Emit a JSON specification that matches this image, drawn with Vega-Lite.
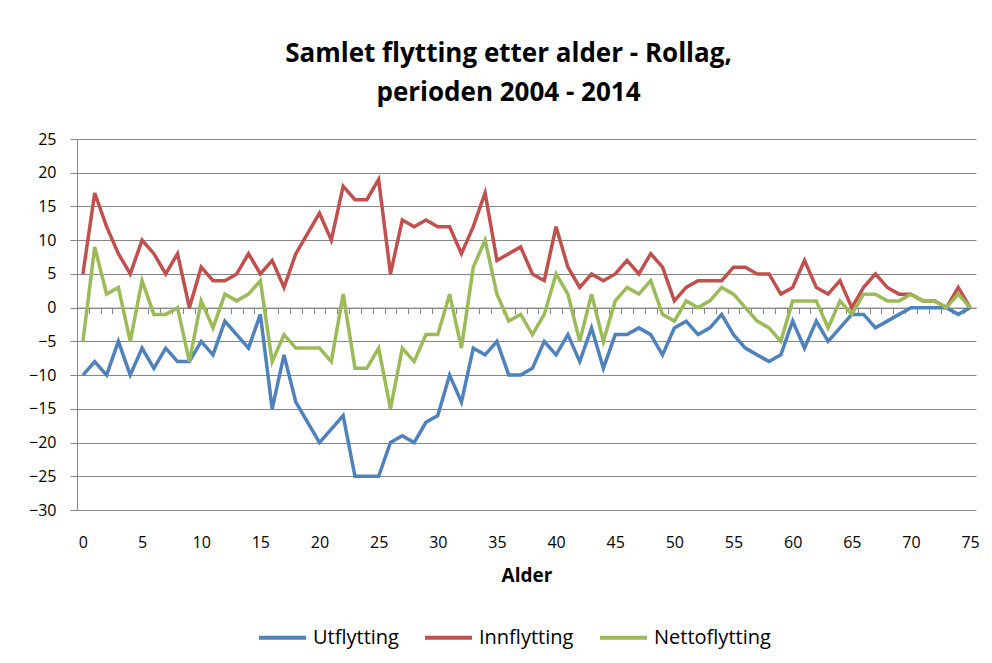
{
  "$schema": "https://vega.github.io/schema/vega-lite/v6.json",
  "autosize": {"type": "none"},
  "padding": {"left": 77, "top": 139, "right": 16, "bottom": 153},
  "width": 899,
  "height": 371,
  "background": "white",
  "title": {
    "text": ["Samlet flytting etter alder - Rollag,", "perioden 2004 - 2014"],
    "font": "Open Sans",
    "fontSize": 26,
    "fontWeight": "bold",
    "color": "#000000",
    "lineHeight": 39,
    "anchor": "middle",
    "dx": -18,
    "offset": 25
  },
  "data": {
    "values": [
      {"alder": 0, "Utflytting": -10, "Innflytting": 5, "Nettoflytting": -5},
      {"alder": 1, "Utflytting": -8, "Innflytting": 17, "Nettoflytting": 9},
      {"alder": 2, "Utflytting": -10, "Innflytting": 12, "Nettoflytting": 2},
      {"alder": 3, "Utflytting": -5, "Innflytting": 8, "Nettoflytting": 3},
      {"alder": 4, "Utflytting": -10, "Innflytting": 5, "Nettoflytting": -5},
      {"alder": 5, "Utflytting": -6, "Innflytting": 10, "Nettoflytting": 4},
      {"alder": 6, "Utflytting": -9, "Innflytting": 8, "Nettoflytting": -1},
      {"alder": 7, "Utflytting": -6, "Innflytting": 5, "Nettoflytting": -1},
      {"alder": 8, "Utflytting": -8, "Innflytting": 8, "Nettoflytting": 0},
      {"alder": 9, "Utflytting": -8, "Innflytting": 0, "Nettoflytting": -8},
      {"alder": 10, "Utflytting": -5, "Innflytting": 6, "Nettoflytting": 1},
      {"alder": 11, "Utflytting": -7, "Innflytting": 4, "Nettoflytting": -3},
      {"alder": 12, "Utflytting": -2, "Innflytting": 4, "Nettoflytting": 2},
      {"alder": 13, "Utflytting": -4, "Innflytting": 5, "Nettoflytting": 1},
      {"alder": 14, "Utflytting": -6, "Innflytting": 8, "Nettoflytting": 2},
      {"alder": 15, "Utflytting": -1, "Innflytting": 5, "Nettoflytting": 4},
      {"alder": 16, "Utflytting": -15, "Innflytting": 7, "Nettoflytting": -8},
      {"alder": 17, "Utflytting": -7, "Innflytting": 3, "Nettoflytting": -4},
      {"alder": 18, "Utflytting": -14, "Innflytting": 8, "Nettoflytting": -6},
      {"alder": 19, "Utflytting": -17, "Innflytting": 11, "Nettoflytting": -6},
      {"alder": 20, "Utflytting": -20, "Innflytting": 14, "Nettoflytting": -6},
      {"alder": 21, "Utflytting": -18, "Innflytting": 10, "Nettoflytting": -8},
      {"alder": 22, "Utflytting": -16, "Innflytting": 18, "Nettoflytting": 2},
      {"alder": 23, "Utflytting": -25, "Innflytting": 16, "Nettoflytting": -9},
      {"alder": 24, "Utflytting": -25, "Innflytting": 16, "Nettoflytting": -9},
      {"alder": 25, "Utflytting": -25, "Innflytting": 19, "Nettoflytting": -6},
      {"alder": 26, "Utflytting": -20, "Innflytting": 5, "Nettoflytting": -15},
      {"alder": 27, "Utflytting": -19, "Innflytting": 13, "Nettoflytting": -6},
      {"alder": 28, "Utflytting": -20, "Innflytting": 12, "Nettoflytting": -8},
      {"alder": 29, "Utflytting": -17, "Innflytting": 13, "Nettoflytting": -4},
      {"alder": 30, "Utflytting": -16, "Innflytting": 12, "Nettoflytting": -4},
      {"alder": 31, "Utflytting": -10, "Innflytting": 12, "Nettoflytting": 2},
      {"alder": 32, "Utflytting": -14, "Innflytting": 8, "Nettoflytting": -6},
      {"alder": 33, "Utflytting": -6, "Innflytting": 12, "Nettoflytting": 6},
      {"alder": 34, "Utflytting": -7, "Innflytting": 17, "Nettoflytting": 10},
      {"alder": 35, "Utflytting": -5, "Innflytting": 7, "Nettoflytting": 2},
      {"alder": 36, "Utflytting": -10, "Innflytting": 8, "Nettoflytting": -2},
      {"alder": 37, "Utflytting": -10, "Innflytting": 9, "Nettoflytting": -1},
      {"alder": 38, "Utflytting": -9, "Innflytting": 5, "Nettoflytting": -4},
      {"alder": 39, "Utflytting": -5, "Innflytting": 4, "Nettoflytting": -1},
      {"alder": 40, "Utflytting": -7, "Innflytting": 12, "Nettoflytting": 5},
      {"alder": 41, "Utflytting": -4, "Innflytting": 6, "Nettoflytting": 2},
      {"alder": 42, "Utflytting": -8, "Innflytting": 3, "Nettoflytting": -5},
      {"alder": 43, "Utflytting": -3, "Innflytting": 5, "Nettoflytting": 2},
      {"alder": 44, "Utflytting": -9, "Innflytting": 4, "Nettoflytting": -5},
      {"alder": 45, "Utflytting": -4, "Innflytting": 5, "Nettoflytting": 1},
      {"alder": 46, "Utflytting": -4, "Innflytting": 7, "Nettoflytting": 3},
      {"alder": 47, "Utflytting": -3, "Innflytting": 5, "Nettoflytting": 2},
      {"alder": 48, "Utflytting": -4, "Innflytting": 8, "Nettoflytting": 4},
      {"alder": 49, "Utflytting": -7, "Innflytting": 6, "Nettoflytting": -1},
      {"alder": 50, "Utflytting": -3, "Innflytting": 1, "Nettoflytting": -2},
      {"alder": 51, "Utflytting": -2, "Innflytting": 3, "Nettoflytting": 1},
      {"alder": 52, "Utflytting": -4, "Innflytting": 4, "Nettoflytting": 0},
      {"alder": 53, "Utflytting": -3, "Innflytting": 4, "Nettoflytting": 1},
      {"alder": 54, "Utflytting": -1, "Innflytting": 4, "Nettoflytting": 3},
      {"alder": 55, "Utflytting": -4, "Innflytting": 6, "Nettoflytting": 2},
      {"alder": 56, "Utflytting": -6, "Innflytting": 6, "Nettoflytting": 0},
      {"alder": 57, "Utflytting": -7, "Innflytting": 5, "Nettoflytting": -2},
      {"alder": 58, "Utflytting": -8, "Innflytting": 5, "Nettoflytting": -3},
      {"alder": 59, "Utflytting": -7, "Innflytting": 2, "Nettoflytting": -5},
      {"alder": 60, "Utflytting": -2, "Innflytting": 3, "Nettoflytting": 1},
      {"alder": 61, "Utflytting": -6, "Innflytting": 7, "Nettoflytting": 1},
      {"alder": 62, "Utflytting": -2, "Innflytting": 3, "Nettoflytting": 1},
      {"alder": 63, "Utflytting": -5, "Innflytting": 2, "Nettoflytting": -3},
      {"alder": 64, "Utflytting": -3, "Innflytting": 4, "Nettoflytting": 1},
      {"alder": 65, "Utflytting": -1, "Innflytting": 0, "Nettoflytting": -1},
      {"alder": 66, "Utflytting": -1, "Innflytting": 3, "Nettoflytting": 2},
      {"alder": 67, "Utflytting": -3, "Innflytting": 5, "Nettoflytting": 2},
      {"alder": 68, "Utflytting": -2, "Innflytting": 3, "Nettoflytting": 1},
      {"alder": 69, "Utflytting": -1, "Innflytting": 2, "Nettoflytting": 1},
      {"alder": 70, "Utflytting": 0, "Innflytting": 2, "Nettoflytting": 2},
      {"alder": 71, "Utflytting": 0, "Innflytting": 1, "Nettoflytting": 1},
      {"alder": 72, "Utflytting": 0, "Innflytting": 1, "Nettoflytting": 1},
      {"alder": 73, "Utflytting": 0, "Innflytting": 0, "Nettoflytting": 0},
      {"alder": 74, "Utflytting": -1, "Innflytting": 3, "Nettoflytting": 2},
      {"alder": 75, "Utflytting": 0, "Innflytting": 0, "Nettoflytting": 0}
    ]
  },
  "transform": [
    {"fold": ["Utflytting", "Innflytting", "Nettoflytting"], "as": ["serie", "verdi"]}
  ],
  "mark": {"type": "line", "strokeWidth": 3.5, "strokeJoin": "miter", "strokeCap": "butt"},
  "encoding": {
    "x": {
      "field": "alder",
      "type": "quantitative",
      "scale": {"domain": [-0.5, 75.5], "nice": false, "zero": false},
      "axis": {
        "title": "Alder",
        "values": [0,1,2,3,4,5,6,7,8,9,10,11,12,13,14,15,16,17,18,19,20,21,22,23,24,25,26,27,28,29,30,31,32,33,34,35,36,37,38,39,40,41,42,43,44,45,46,47,48,49,50,51,52,53,54,55,56,57,58,59,60,61,62,63,64,65,66,67,68,69,70,71,72,73,74,75],
        "labelExpr": "datum.value % 5 === 0 ? datum.label : ''",
        "labelOverlap": false,
        "labelFlush": false,
        "grid": false,
        "offset": -202.4,
        "domain": true,
        "domainColor": "#868686",
        "ticks": true,
        "tickColor": "#868686",
        "tickSize": 6,
        "tickOffset": -5.914,
        "labelOffset": 5.914,
        "labelPadding": 221,
        "labelFont": "Open Sans",
        "labelFontSize": 16,
        "labelColor": "#000000",
        "titleFont": "Open Sans",
        "titleFontSize": 19,
        "titleFontWeight": "bold",
        "titleColor": "#000000",
        "titleBaseline": "alphabetic",
        "titleY": 274
      }
    },
    "y": {
      "field": "verdi",
      "type": "quantitative",
      "scale": {"domain": [-30, 25], "nice": false, "zero": false},
      "axis": {
        "title": null,
        "values": [-30,-25,-20,-15,-10,-5,0,5,10,15,20,25],
        "grid": true,
        "gridColor": "#868686",
        "gridOpacity": 1,
        "domain": true,
        "domainColor": "#868686",
        "ticks": true,
        "tickColor": "#868686",
        "tickSize": 7,
        "labelPadding": 14,
        "labelFont": "Open Sans",
        "labelFontSize": 16,
        "labelColor": "#000000"
      }
    },
    "color": {
      "field": "serie",
      "type": "nominal",
      "scale": {
        "domain": ["Utflytting", "Innflytting", "Nettoflytting"],
        "range": ["#4F81BD", "#C0504D", "#9BBB59"]
      },
      "legend": {
        "title": null,
        "orient": "none",
        "legendX": 180,
        "legendY": 473,
        "direction": "horizontal",
        "symbolType": "stroke",
        "symbolSize": 2209,
        "symbolStrokeWidth": 4,
        "labelFont": "Open Sans",
        "labelFontSize": 20,
        "labelColor": "#000000",
        "labelOffset": 5,
        "columnPadding": 18
      }
    }
  },
  "config": {
    "view": {"stroke": null}
  }
}
